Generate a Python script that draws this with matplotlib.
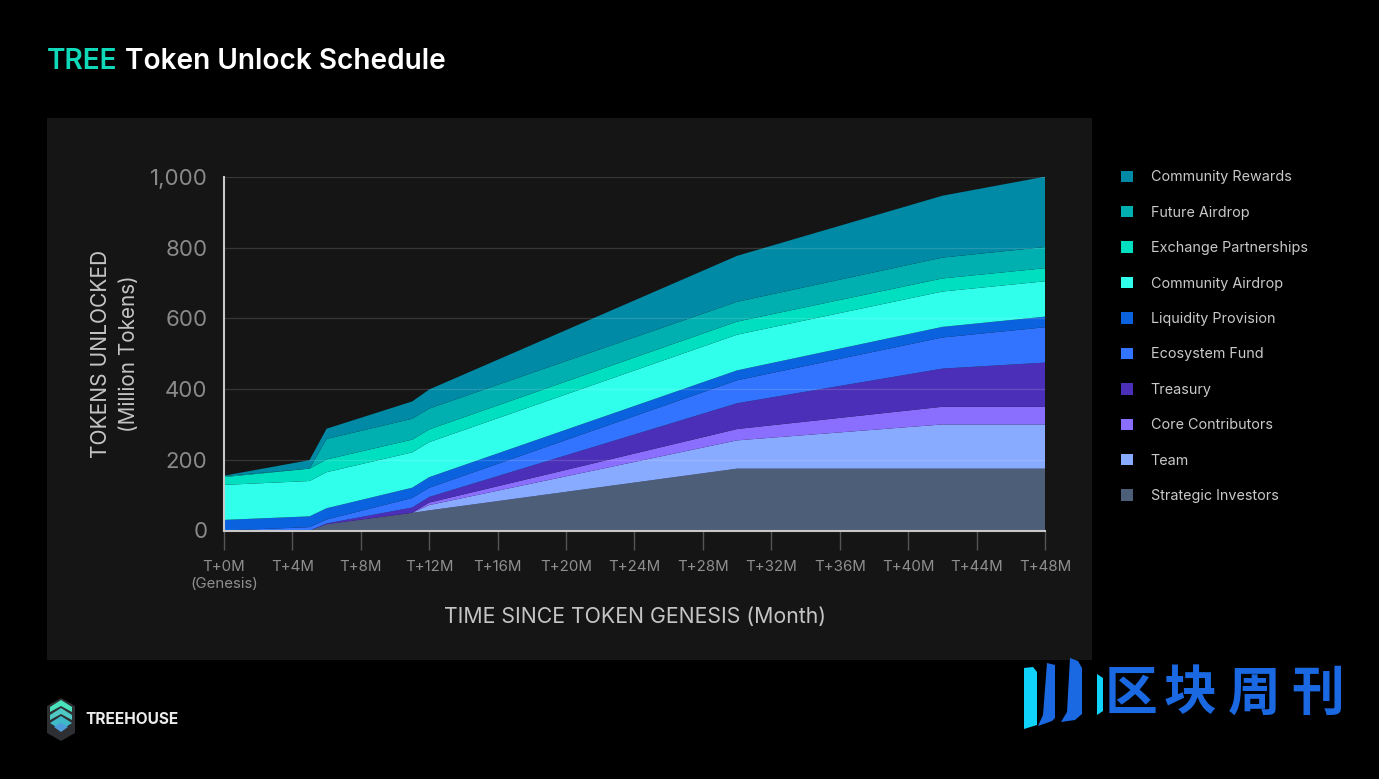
import matplotlib
matplotlib.use("Agg")
import matplotlib.pyplot as plt
from matplotlib.patches import Polygon, Rectangle

W, H = 1379, 779

months = [0, 5, 6, 11, 12, 30, 42, 48]
strategic = [0, 0, 17, 50, 57, 175, 175, 175]
team = [0, 0, 0, 0, 15, 80, 125, 125]
core = [0, 0, 1, 0, 7, 32, 50, 50]
treasury = [0, 0, 2, 15, 16, 73, 108, 125]
ecosystem = [0, 9.5, 11, 27, 26, 65, 88, 100]
liquidity = [30, 30.5, 32, 29, 30, 28, 30, 30]
community_airdrop = [99, 100, 102, 100, 99, 101, 100, 100]
exchange = [22, 35, 36, 36, 36, 37, 37, 37]
future_airdrop = [3, 0, 58, 59, 59, 56, 59, 60]
rewards = [1, 24, 29, 49, 54, 130, 175, 199]

series_labels = ["Strategic Investors", "Team", "Core Contributors", "Treasury",
                 "Ecosystem Fund", "Liquidity Provision", "Community Airdrop",
                 "Exchange Partnerships", "Future Airdrop", "Community Rewards"]
series_colors = ["#4D5E78", "#88AAFF", "#8A6FFF", "#4C2FB8", "#3274FF",
                 "#0B62DF", "#30FFEC", "#00DFC0", "#00AFB0", "#008AA6"]
x_ticks = list(range(0, 49, 4))
x_labels = [f"T+{m}M" for m in x_ticks]
x_labels[0] = "T+0M\n(Genesis)"
y_ticks = [0, 200, 400, 600, 800, 1000]

plt.rcParams["font.family"] = ["Inter", "DejaVu Sans"]
fig = plt.figure(figsize=(W / 100, H / 100), dpi=100, facecolor="black")

# page overlay in pixel coordinates
bg = fig.add_axes([0, 0, 1, 1], zorder=0)
bg.set_xlim(0, W)
bg.set_ylim(H, 0)
bg.axis("off")
bg.add_patch(Rectangle((47, 118), 1045, 542, fc="#151515", ec="none"))

# chart axes
ax = fig.add_axes([224 / W, 1 - 530.5 / H, (1045 - 224) / W, (530.5 - 177) / H], zorder=1)
ax.patch.set_alpha(0)
ax.stackplot(months, strategic, team, core, treasury, ecosystem, liquidity,
             community_airdrop, exchange, future_airdrop, rewards,
             colors=series_colors, labels=series_labels, linewidth=0, zorder=1)
ax.set_xlim(0, 48)
ax.set_ylim(0, 1000)
ax.set_xticks(x_ticks)
ax.set_xticklabels(x_labels, fontsize=10.8, color="#8f8f8f", linespacing=1.3, va="top")
ax.set_yticks(y_ticks)
ax.set_yticklabels([f"{v:,}" for v in y_ticks], fontsize=16, color="#8a8a8a")
ax.tick_params(axis="x", length=14, width=1, color="#555555", pad=7)
ax.tick_params(axis="y", length=0, pad=12)
ax.grid(axis="y", color="white", alpha=0.14, linewidth=0.9, zorder=3)
ax.set_axisbelow(False)
ax.xaxis.grid(False)
for s in ["top", "right"]:
    ax.spines[s].set_visible(False)
for s in ["left", "bottom"]:
    ax.spines[s].set_color("#c8c8c8")
    ax.spines[s].set_linewidth(1.5)
    ax.spines[s].set_zorder(5)

handles, labels = ax.get_legend_handles_labels()
leg = ax.legend(handles[::-1], labels[::-1], loc="upper left",
                bbox_to_anchor=(1117 / W, 1 - 166 / H), bbox_transform=fig.transFigure,
                frameon=False, fontsize=10.35, labelcolor="#c9c9c9", labelspacing=1.49,
                handlelength=0.84, handleheight=0.84, handletextpad=1.2, borderpad=0.3,
                borderaxespad=0)

# axis titles
bg.text(635, 617, "TIME SINCE TOKEN GENESIS (Month)", color="#c4c4c4", fontsize=15.3,
        ha="center", va="center")
bg.text(101, 354, "TOKENS UNLOCKED", color="#c4c4c4", fontsize=15.1, rotation=90,
        ha="center", va="center")
bg.text(129, 354, "(Million Tokens)", color="#c4c4c4", fontsize=14.9, rotation=90,
        ha="center", va="center")

# page title
t1 = bg.text(46.5, 61, "TREE", color="#10D9B9", fontsize=20.2, fontweight="semibold", va="center")
fig.canvas.draw()
ext = t1.get_window_extent()
bg.text(ext.x1 + 8, 61, "Token Unlock Schedule", color="white", fontsize=20.2,
        fontweight="semibold", va="center")

# Treehouse mark
bg.add_patch(Polygon([(61, 698), (75, 706), (75, 733), (61, 741), (47, 733), (47, 706)],
                     fc="#2d2f33", ec="none"))
bg.add_patch(Polygon([(61, 700), (72, 707), (72, 712), (61, 706), (50, 712), (50, 707)],
                     fc="#49E3BE", ec="none"))
bg.add_patch(Polygon([(61, 708), (72, 715), (72, 720), (61, 714), (50, 720), (50, 715)],
                     fc="#50C9C4", ec="none"))
bg.add_patch(Polygon([(61, 716), (72, 723), (61, 730), (50, 723)], fc="#3FB9C8", ec="none"))
bg.add_patch(Polygon([(61, 723), (68, 727), (61, 732), (54, 727)], fc="#4D9BD8", ec="none"))
bg.text(85, 719, "TREEHOUSE", color="#ececec", fontsize=11.1, fontweight="bold", va="center")

# watermark
bg.add_patch(Polygon([(1024, 668), (1033, 667), (1037, 672), (1037, 725), (1024, 729)],
                     fc="#0FD3FA", ec="none"))
bg.add_patch(Polygon([(1047, 663), (1055, 665), (1055, 718), (1052, 721), (1038, 726), (1043, 715)],
                     fc="#1A69E3", ec="none"))
bg.add_patch(Polygon([(1070, 658), (1078, 661), (1082, 668), (1082, 714), (1075, 720), (1061, 722),
                      (1067, 712)], fc="#1A69E3", ec="none"))
bg.add_patch(Polygon([(1097, 674), (1103, 678), (1103, 711), (1097, 715)], fc="#0FD3FA", ec="none"))
for cx, ch in zip([1131, 1190, 1254, 1318], "区块周刊"):
    bg.text(cx, 694, ch, color="#1A69E3", fontsize=38, fontweight="bold",
            family=["Noto Sans CJK SC", "DejaVu Sans"], ha="center", va="center")

fig.savefig("out.png", dpi=100, facecolor="black")
